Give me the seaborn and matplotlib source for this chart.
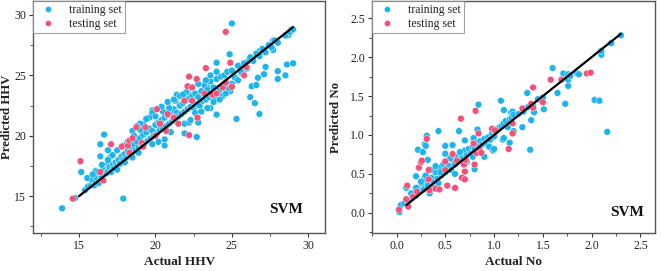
import numpy as np
import pandas as pd
import matplotlib
matplotlib.use("Agg")
import matplotlib.pyplot as plt
import seaborn as sns
from matplotlib.ticker import MultipleLocator, AutoMinorLocator

# ---------------- data: left panel (HHV) ----------------
hhv_train_x = [13.9, 14.75, 17.9, 15.15, 15.55, 16.4, 16.4, 16.65, 16.9, 16.9, 17.1, 16.1, 16.1,
               18.5, 19.8, 19.8, 20.6, 21.9, 21.9, 21.4, 22.1, 22.2, 22.7, 22.8, 23.4, 23.6, 24.0,
               24.0, 25.0, 24.85, 24.9, 25.3, 26.2, 26.3, 26.6, 26.8, 26.5, 26.7, 27.1, 27.2, 28.0,
               28.0, 28.5, 28.6, 29.0, 28.9, 28.7, 27.7, 27.7, 26.8, 26.1, 25.6, 25.9, 25.1,
               15.4, 15.6, 15.8, 15.9, 16.0, 16.1, 16.2, 16.3, 16.4, 16.5, 16.6, 16.8, 16.9, 17.0,
               17.1, 17.2, 17.3, 17.4, 17.5, 17.6, 17.7, 17.8, 17.9, 18.0, 18.1, 18.2, 18.3, 18.4,
               18.5, 18.6, 18.7, 18.8, 18.9, 19.0, 19.1, 19.2, 19.3, 19.4, 19.5, 19.6, 19.7, 19.8,
               19.9, 20.0, 20.1, 20.2, 20.3, 20.4, 20.5, 20.6, 20.7, 20.8, 20.9, 21.0, 21.1, 21.2,
               21.3, 21.4, 21.5, 21.6, 21.7, 21.8, 21.9, 22.0, 22.1, 22.2, 22.3, 22.4, 22.5, 22.6,
               22.7, 22.8, 22.9, 23.0, 23.1, 23.2, 23.3, 23.4, 23.5, 23.6, 23.7, 23.8, 23.9, 24.0,
               24.2, 24.3, 24.4, 24.5, 24.6, 24.7, 24.8, 25.0, 25.2, 25.4, 25.6, 25.8, 26.0, 26.2,
               26.4, 26.6, 26.8, 27.0, 27.2, 27.4, 27.6, 27.8, 28.0, 28.5, 28.8, 29.0,
               19.2, 19.6, 20.0, 20.5, 20.9, 21.3, 21.6, 22.0, 22.3, 22.6, 23.0, 23.4, 23.8, 24.2,
               24.6, 25.0, 25.4, 21.0, 20.6, 20.2, 19.8, 18.9, 18.5, 18.0, 17.5, 19.0, 18.6, 18.2,
               17.9, 17.5, 17.2, 16.9, 16.5, 16.2, 15.9, 21.8, 22.4, 22.8, 23.3, 23.6, 24.0, 20.4,
               20.8, 21.2, 19.4, 19.0, 18.8]
hhv_train_y = [14.0, 14.85, 14.8, 17.0, 16.5, 19.3, 18.3, 20.1, 18.8, 17.7, 18.3, 17.1, 16.7,
               20.4, 22.1, 21.9, 19.2, 20.2, 21.0, 23.4, 23.6, 21.1, 19.9, 21.1, 24.0, 22.3, 26.05,
               21.75, 29.3, 26.75, 23.7, 21.4, 23.2, 24.1, 24.2, 21.8, 22.7, 24.8, 25.1, 25.7, 24.7,
               25.35, 25.0, 25.9, 26.0, 28.8, 28.35, 27.1, 27.9, 27.0, 26.2, 25.2, 25.5, 25.2,
               15.5, 15.8, 15.9, 16.3, 15.9, 16.2, 16.5, 16.1, 16.7, 16.6, 17.2, 16.9, 17.1, 17.4,
               17.0, 17.6, 17.3, 17.8, 17.5, 18.0, 17.7, 18.3, 18.0, 18.5, 18.2, 18.8, 18.4, 19.0,
               18.6, 19.3, 18.8, 19.5, 19.0, 19.8, 19.2, 20.1, 19.4, 20.3, 19.6, 20.6, 19.8, 20.4,
               20.0, 20.9, 20.2, 21.1, 20.5, 21.3, 20.6, 21.5, 20.8, 21.7, 21.0, 22.0, 21.2, 22.2,
               21.4, 21.9, 21.6, 22.5, 21.8, 22.7, 22.0, 22.9, 22.2, 23.1, 22.4, 23.3, 22.3, 23.5,
               22.6, 23.2, 22.5, 23.7, 22.9, 24.2, 23.0, 23.8, 23.2, 24.5, 23.4, 24.0, 23.0, 24.7,
               23.8, 24.9, 23.3, 25.0, 24.2, 25.3, 23.9, 25.4, 24.8, 25.8, 25.3, 26.0, 25.6, 26.5,
               26.2, 26.8, 26.6, 27.2, 26.9, 27.5, 27.3, 27.9, 27.7, 28.3, 28.6, 28.8,
               21.0, 21.5, 21.6, 22.0, 22.3, 22.9, 23.3, 23.6, 21.3, 21.9, 22.0, 22.3, 22.8, 23.0,
               23.5, 24.3, 24.6, 20.3, 19.7, 19.5, 19.3, 18.6, 18.2, 17.8, 17.2, 20.5, 20.0, 19.5,
               19.2, 18.8, 18.4, 18.0, 17.6, 17.0, 16.8, 23.4, 24.0, 24.3, 24.6, 25.0, 25.3, 22.4,
               22.8, 23.0, 21.4, 21.0, 20.8]
hhv_test_x = [14.6, 15.1, 16.4, 16.6, 17.1, 17.8, 18.2, 18.3, 18.3, 18.5, 18.76, 19.35, 19.1, 19.2,
              20.1, 20.0, 20.3, 20.7, 20.8, 21.2, 21.5, 21.9, 22.1, 22.2, 22.2, 22.4, 22.4, 22.7,
              22.75, 23.3, 23.2, 23.75, 24.0, 24.4, 24.6, 24.6, 24.9, 25.0, 25.8, 25.95]
hhv_test_y = [14.8, 17.9, 17.0, 16.3, 19.3, 19.1, 19.2, 19.6, 18.6, 19.8, 20.7, 20.7, 19.4, 19.1,
              22.2, 20.0, 21.0, 20.4, 21.8, 21.5, 21.0, 22.9, 24.1, 24.9, 20.05, 22.9, 24.0, 24.7,
              21.5, 25.6, 23.5, 23.4, 23.5, 24.0, 24.4, 28.6, 26.05, 24.05, 25.0, 25.7]

# ---------------- data: right panel (No) ----------------
no_train_x = [0.03, 0.03, 0.045, 0.10, 0.20, 0.22, 0.27, 0.29, 0.31, 0.30, 0.32, 0.29, 0.43, 0.50,
              0.50, 0.575, 0.64, 0.70, 0.83, 0.84, 0.79, 0.80, 0.90, 0.99, 1.07, 1.10, 1.09, 1.175,
              1.19, 1.16, 1.19, 1.29, 1.37, 1.34, 1.38, 1.41, 1.51, 1.60, 1.65, 1.73, 1.71, 1.76,
              1.76, 1.76, 1.78, 1.85, 1.87, 2.03, 2.08, 2.10, 2.10, 2.16, 2.20, 2.30,
              0.08, 0.12, 0.15, 0.18, 0.20, 0.22, 0.24, 0.26, 0.28, 0.30, 0.32, 0.34, 0.36, 0.38,
              0.40, 0.42, 0.44, 0.46, 0.48, 0.50, 0.52, 0.54, 0.56, 0.58, 0.60, 0.62, 0.64, 0.66,
              0.68, 0.70, 0.72, 0.74, 0.76, 0.78, 0.80, 0.82, 0.84, 0.86, 0.88, 0.90, 0.92, 0.94,
              0.96, 0.98, 1.00, 1.02, 1.04, 1.06, 1.08, 1.10, 1.12, 1.14, 1.16, 1.18, 1.20, 1.25,
              1.30, 1.35, 1.40, 1.45, 1.50, 0.35, 0.40, 0.45, 0.30, 0.25, 0.20, 0.15, 0.55, 0.65,
              0.72, 0.78, 0.85, 0.95, 1.00, 0.60, 0.70, 0.38, 0.43, 1.10, 1.20]
no_train_y = [0.055, 0.01, 0.10, 0.32, 0.47, 0.81, 0.78, 0.88, 0.99, 0.86, 0.68, 0.46, 1.05, 0.86,
              0.76, 0.87, 1.05, 0.93, 1.07, 1.39, 0.96, 0.56, 0.72, 0.80, 1.44, 1.32, 0.94, 1.29,
              1.30, 0.90, 1.02, 1.10, 0.81, 1.54, 1.19, 1.29, 1.33, 1.86, 1.54, 1.40, 1.79, 1.78,
              1.63, 1.71, 1.76, 1.79, 1.78, 1.45, 1.44, 2.03, 2.08, 1.04, 2.18, 2.28,
              0.12, 0.15, 0.18, 0.25, 0.22, 0.32, 0.28, 0.38, 0.30, 0.42, 0.35, 0.25, 0.45, 0.40,
              0.52, 0.44, 0.58, 0.48, 0.62, 0.52, 0.58, 0.60, 0.55, 0.68, 0.62, 0.72, 0.66, 0.75,
              0.70, 0.80, 0.74, 0.82, 0.76, 0.85, 0.82, 0.90, 0.86, 0.92, 0.88, 0.95, 0.90, 0.97,
              0.94, 1.02, 0.98, 1.05, 1.08, 1.10, 1.12, 1.15, 1.18, 1.10, 1.20, 1.22, 1.26, 1.27,
              1.30, 1.36, 1.38, 1.46, 1.48, 0.55, 0.60, 0.52, 0.48, 0.40, 0.32, 0.25, 0.70, 0.78,
              0.65, 0.72, 0.80, 0.85, 0.82, 0.50, 0.64, 0.32, 0.38, 0.96, 1.05]
no_test_x = [0.025, 0.10, 0.11, 0.12, 0.17, 0.21, 0.23, 0.25, 0.26, 0.31, 0.33, 0.33, 0.34, 0.40,
             0.44, 0.50, 0.50, 0.52, 0.575, 0.60, 0.62, 0.66, 0.67, 0.70, 0.70, 0.69, 0.71, 0.79,
             0.80, 0.81, 0.82, 0.84, 0.85, 0.87, 0.98, 1.01, 1.15, 1.19, 1.19, 1.29, 1.38, 1.40,
             1.40, 1.50, 1.58, 1.69, 1.95, 1.99]
no_test_y = [0.04, 0.175, 0.35, 0.08, 0.21, 0.27, 0.58, 0.65, 0.67, 0.95, 0.55, 0.43, 0.29, 0.31,
             0.30, 0.66, 0.55, 0.35, 0.755, 0.32, 0.67, 1.21, 0.45, 0.43, 0.53, 0.62, 0.68, 0.89,
             0.62, 1.31, 0.77, 1.02, 0.82, 0.77, 1.08, 1.06, 0.82, 1.15, 1.02, 1.34, 1.40, 1.61,
             1.35, 1.42, 1.71, 1.71, 1.79, 1.80]

set_labels = ["training set", "testing set"]
hhv_line = [15, 29]
no_line = [0.1, 2.3]

# ---------------- plotting ----------------
sns.set_theme(style="white")
plt.rcParams["font.family"] = ["Liberation Serif", "DejaVu Serif"]

BLUE = "#1db4ee"
PINK = "#f2517a"

fig = plt.figure(figsize=(6.61, 2.71), dpi=100)
ax1 = fig.add_axes([0.050, 0.140, 0.442, 0.856])
ax2 = fig.add_axes([0.563, 0.140, 0.428, 0.856])


def make_df(tx, ty, vx, vy):
    return pd.DataFrame({
        "x": list(tx) + list(vx),
        "y": list(ty) + list(vy),
        "set": [set_labels[0]] * len(tx) + [set_labels[1]] * len(vx),
    })


def draw(ax, df, line, xlim, ylim, major, xlabel, ylabel, fmt, ylab_x, svm_xy):
    sns.scatterplot(data=df, x="x", y="y", hue="set", hue_order=set_labels,
                    palette=[BLUE, PINK], s=24, edgecolor="#ffffff", linewidth=0.3,
                    alpha=1.0, ax=ax, zorder=3)
    sns.lineplot(x=line, y=line, color="black", linewidth=1.6, ax=ax, zorder=4)
    ax.set_xlim(*xlim)
    ax.set_ylim(*ylim)
    ax.xaxis.set_major_locator(MultipleLocator(major))
    ax.yaxis.set_major_locator(MultipleLocator(major))
    ax.xaxis.set_minor_locator(AutoMinorLocator(2))
    ax.yaxis.set_minor_locator(AutoMinorLocator(2))
    ax.xaxis.set_major_formatter(plt.FormatStrFormatter(fmt))
    ax.yaxis.set_major_formatter(plt.FormatStrFormatter(fmt))
    ax.tick_params(which="both", direction="out", bottom=True, left=True, top=False, right=False,
                   colors="#333333", labelcolor="#222222")
    ax.tick_params(which="major", length=3, width=0.8, labelsize=8.5, pad=2)
    ax.tick_params(which="minor", length=2, width=0.6)
    for sp in ax.spines.values():
        sp.set_color("#555555")
        sp.set_linewidth(1.0)
    ax.set_xlabel(xlabel, fontsize=9.5, fontweight="bold", color="#222222")
    ax.xaxis.set_label_coords(0.5, -0.10)
    ax.set_ylabel(ylabel, fontsize=9.2, fontweight="bold", color="#222222")
    ax.yaxis.set_label_coords(ylab_x, 0.5)
    ax.text(svm_xy[0], svm_xy[1], "SVM", transform=ax.transAxes, fontsize=11, fontweight="bold",
            ha="center", va="center", color="#111111")
    leg = ax.legend(loc="upper left", fontsize=8.5, frameon=True, fancybox=False,
                    borderaxespad=0.0, handletextpad=0.8, borderpad=0.25,
                    labelspacing=0.15, markerscale=0.9)
    leg.get_frame().set_edgecolor("#888888")
    leg.get_frame().set_linewidth(0.8)
    for t in leg.get_texts():
        t.set_color("#222222")


draw(ax1, make_df(hhv_train_x, hhv_train_y, hhv_test_x, hhv_test_y), hhv_line,
     (12.0, 31.1), (11.95, 31.15), 5, "Actual HHV", "Predicted HHV", "%d", -0.068, (0.866, 0.10))
draw(ax2, make_df(no_train_x, no_train_y, no_test_x, no_test_y), no_line,
     (-0.25, 2.65), (-0.26, 2.72), 0.5, "Actual No", "Predicted No", "%.1f", -0.106, (0.90, 0.088))

fig.savefig("out.png", dpi=100)
